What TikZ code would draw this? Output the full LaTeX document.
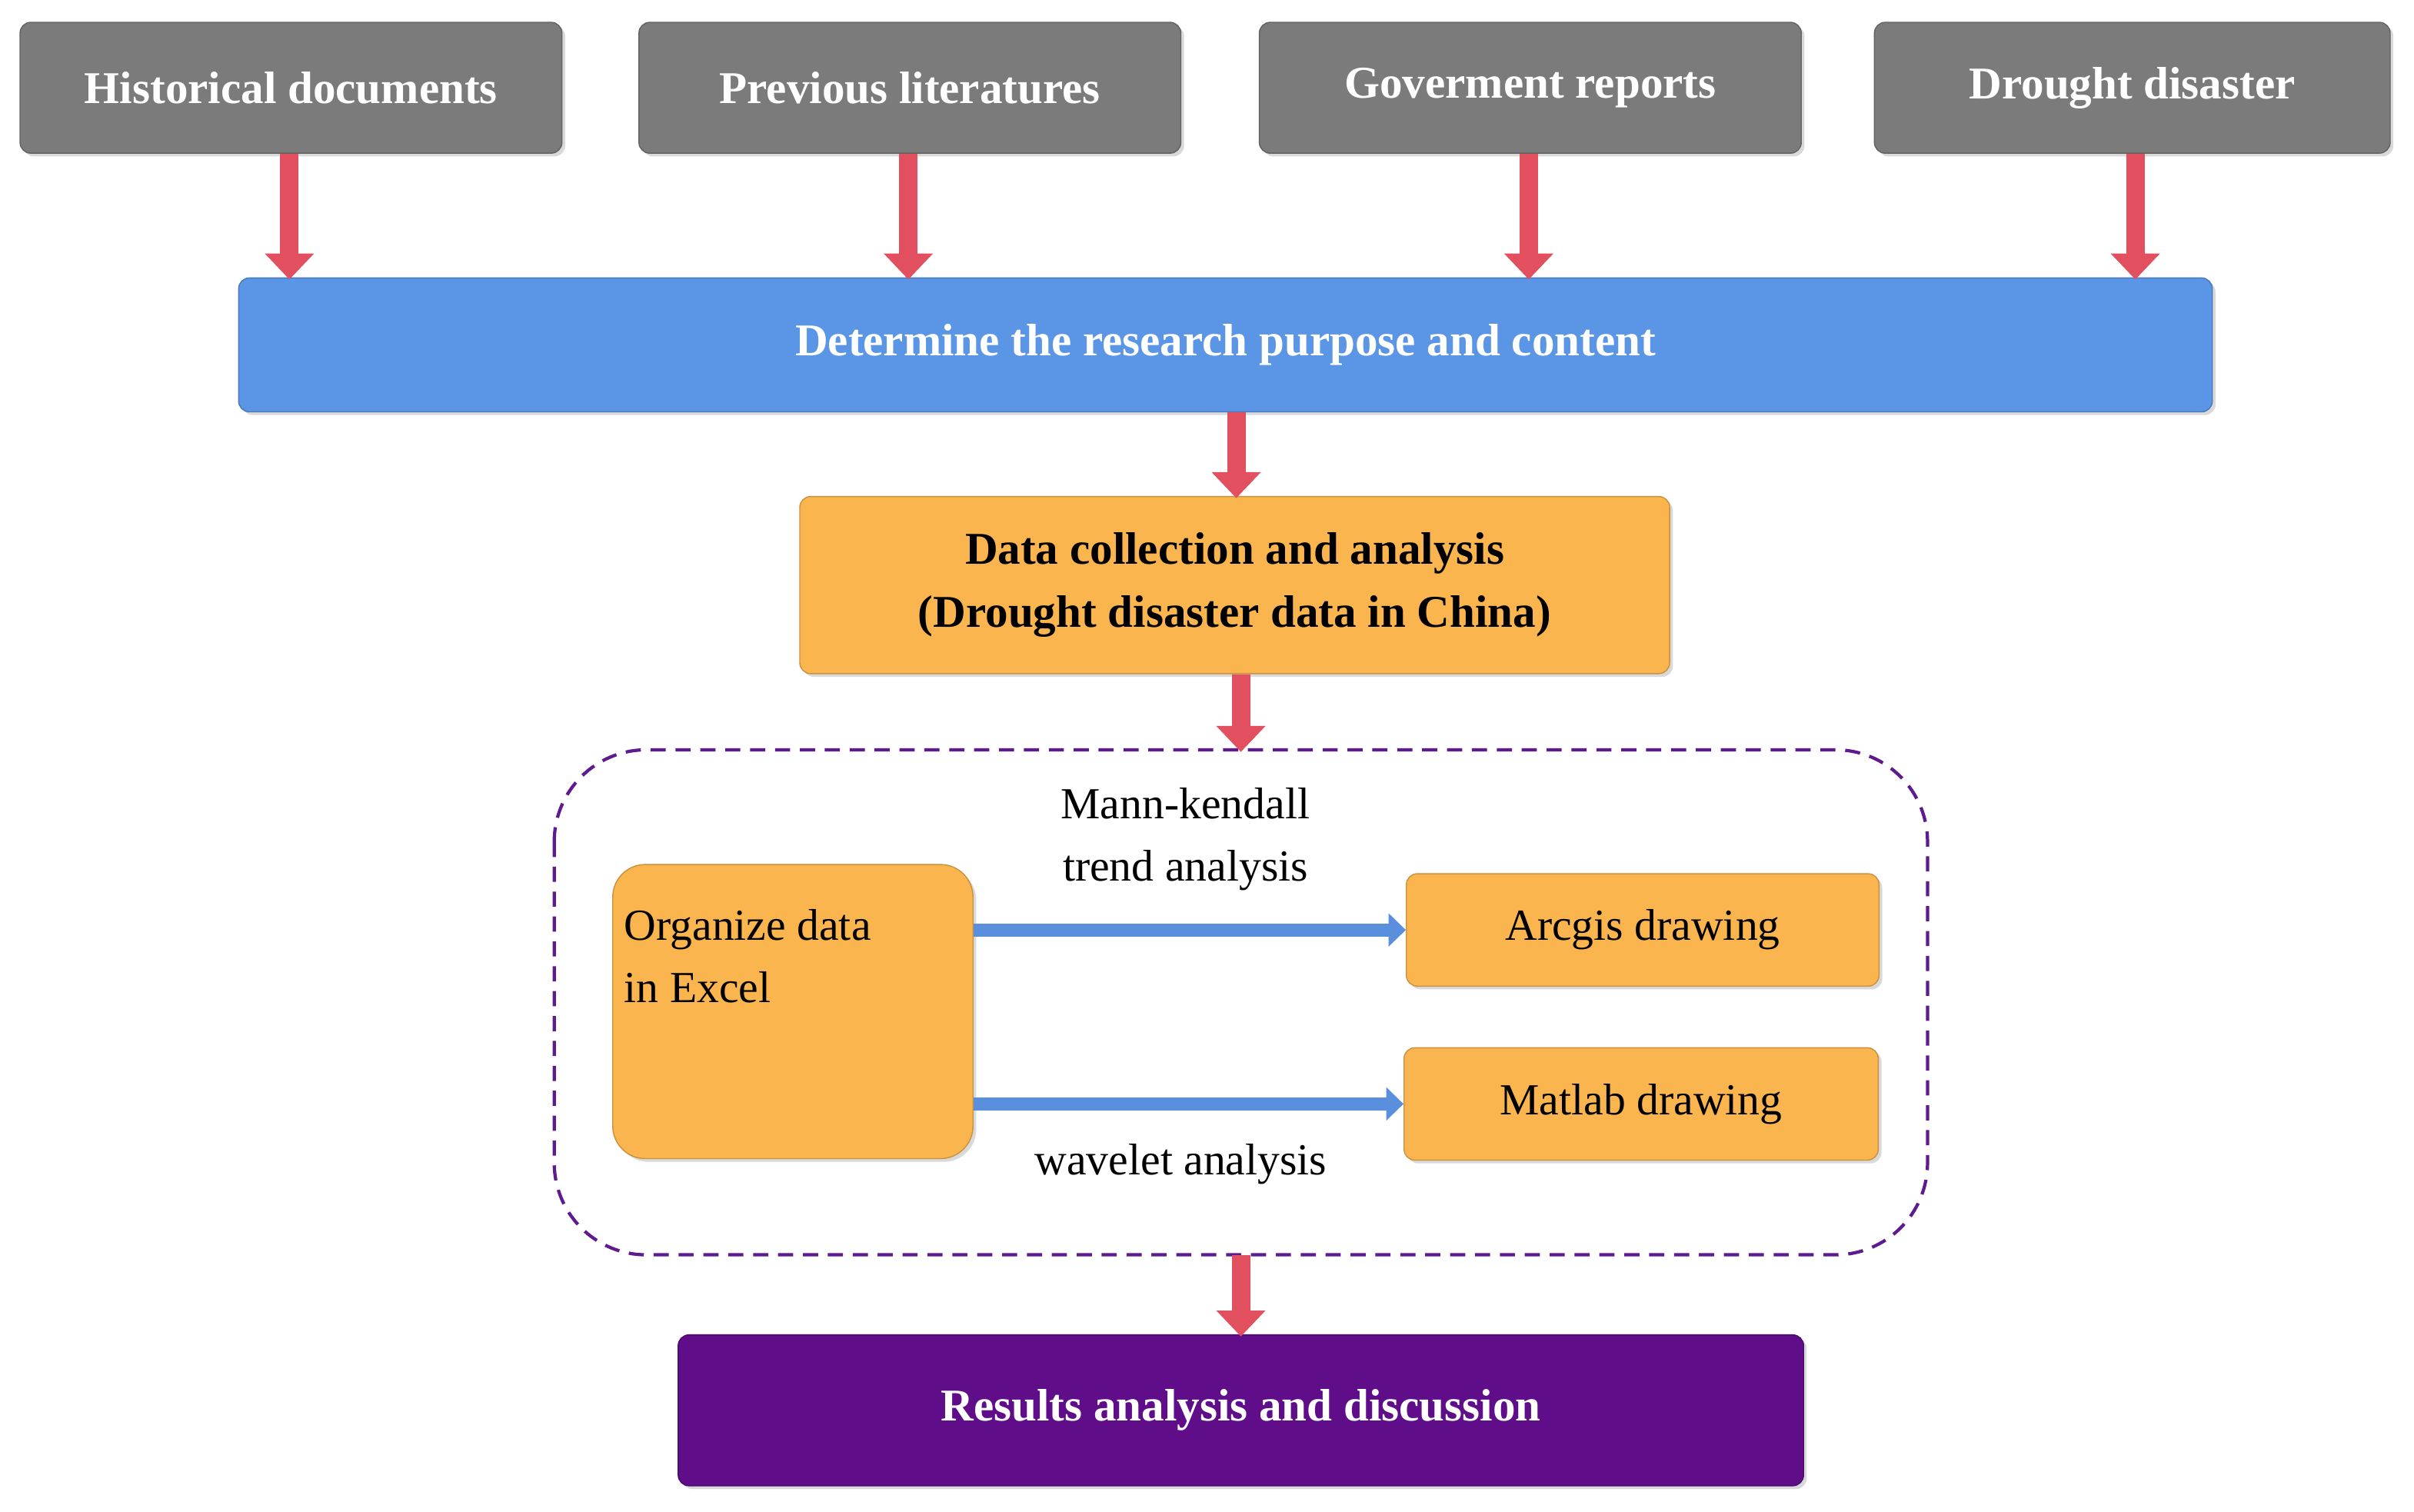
\documentclass[tikz,border=0pt]{standalone}
\usepackage{fontspec}
\setmainfont{Liberation Serif}
\usetikzlibrary{arrows.meta,shadows}
\definecolor{gbox}{HTML}{7B7B7B}
\definecolor{bbox}{HTML}{5B95E5}
\definecolor{obox}{HTML}{FBB54E}
\definecolor{pbox}{HTML}{600D8A}
\definecolor{rarr}{HTML}{E2505F}
\definecolor{barr}{HTML}{5A8FDD}
\definecolor{dashc}{HTML}{5E1A8E}
\begin{document}
\begin{tikzpicture}[x=0.05cm,y=-0.05cm,
  box/.style={rounded corners=10pt,draw=#1!80!black,line width=1pt,drop shadow={opacity=0.3,shadow xshift=3pt,shadow yshift=-3pt}},
  gbx/.style={box=gbox,fill=gbox,text=white,font=\fontsize{42}{48}\selectfont\bfseries,minimum width=352*0.05cm,minimum height=85*0.05cm},
  rar/.style={draw=rarr,line width=17pt,-{Triangle[width=44pt,length=24pt]},shorten >=-2pt},
  bar/.style={draw=barr,line width=12pt,-{Triangle[width=30pt,length=16pt]}},
  lbl/.style={font=\fontsize{41}{58}\selectfont,align=center}]
\useasboundingbox (0,0) rectangle (1568,982);
\node[gbx] (h1) at (189,57) {Historical documents};
\node[gbx] (h2) at (591,57) {Previous literatures};
\node[gbx] (h3) at (994,57) {Goverment reports};
\node[gbx,minimum width=335*0.05cm] (h4) at (1385,57) {Drought disaster};
\node[box=bbox,fill=bbox,text=white,font=\fontsize{42}{48}\selectfont\bfseries,minimum width=1282*0.05cm,minimum height=87*0.05cm] (det) at (796,224) {Determine the research purpose and content};
\node[box=obox,fill=obox,font=\fontsize{42}{58}\selectfont\bfseries,align=center,minimum width=565*0.05cm,minimum height=115*0.05cm] (dc) at (802,380) {Data collection and analysis\\(Drought disaster data in China)};
\draw[dashc,line width=3pt,dash pattern=on 14pt off 9pt,rounded corners=85pt] (360,487) rectangle (1252,815);
\coordinate (dtop) at (806,487);
\coordinate (dbot) at (806,815);
\node[box=obox,fill=obox,rounded corners=30pt,minimum width=234*0.05cm,minimum height=191*0.05cm] (org) at (515,657) {};
\node[lbl,align=left,anchor=north west] (orgt) at (403,588) {Organize data\\in Excel};
\node[box=obox,fill=obox,lbl,minimum width=307*0.05cm,minimum height=73*0.05cm] (arc) at (1067,604) {Arcgis drawing};
\node[box=obox,fill=obox,lbl,minimum width=308*0.05cm,minimum height=73*0.05cm] (mat) at (1066,717) {Matlab drawing};
\node[lbl] (mk) at (770,545) {Mann-kendall\\trend analysis};
\node[lbl] (wv) at (767,756) {wavelet analysis};
\node[box=pbox,fill=pbox,text=white,font=\fontsize{42}{48}\selectfont\bfseries,minimum width=731*0.05cm,minimum height=98*0.05cm] (res) at (806,916) {Results analysis and discussion};
\foreach \h/\x in {h1/188,h2/590,h3/993,h4/1387}
  \draw[rar] (\h.south -| \x,0) -- (det.north -| \x,0);
\draw[rar] (det.south -| 803,0) -- (dc.north -| 803,0);
\draw[rar] (dc.south -| 806,0) -- (dtop);
\draw[rar] (dbot) -- (res.north -| 806,0);
\draw[bar] (org.east |- arc.west) -- (arc.west);
\draw[bar] (org.east |- mat.west) -- (mat.west);
\end{tikzpicture}
\end{document}
